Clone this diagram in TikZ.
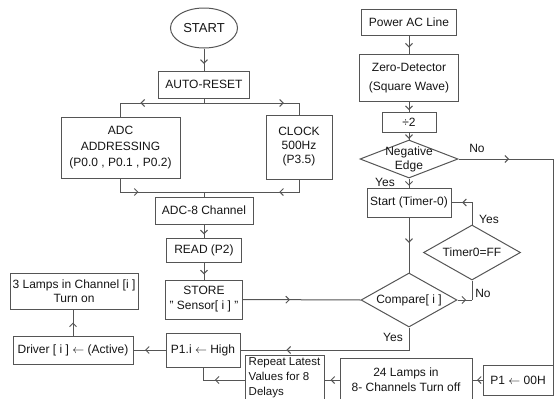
\documentclass[tikz,border=0pt]{standalone}
\usepackage{fontspec}
\setmainfont{Liberation Sans}
\usepackage{tikz}
\usetikzlibrary{arrows.meta,shapes.geometric,decorations.markings}
\definecolor{clLine}{HTML}{555555}
\definecolor{clText}{HTML}{151515}
\tikzset{
  box/.style={rectangle, draw=clLine, line width=1pt, align=center,
              inner sep=1pt, text=clText, font=\fontsize{12}{15}\selectfont},
  term/.style={ellipse, draw=clLine, line width=1pt, inner sep=0pt,
               text=clText, font=\fontsize{13}{15}\selectfont},
  decision/.style={diamond, draw=clLine, line width=1pt, inner sep=0pt,
               label={[text=clText, align=center, font=\fontsize{12}{14}\selectfont]center:{#1}}},
  flow/.style={draw=clLine, line width=1pt, postaction={decorate},
               decoration={markings, mark=at position #1 with {\arrow{Straight Barb[length=3.5pt,width=7pt,line width=1pt]}}}},
  flow/.default=0.6,
  tag/.style={text=clText, inner sep=0pt, font=\fontsize{12}{14}\selectfont},
}
\begin{document}
\begin{tikzpicture}[x=1pt, y=-1pt]
  \useasboundingbox (0,0) rectangle (555,399);

  % left column
  \node[term, minimum width=67pt, minimum height=40pt] (start) at (204,28) {START};
  \node[box, minimum width=91pt, minimum height=27pt] (auto) at (204,84.5) {AUTO-RESET};
  \node[box, minimum width=119pt, minimum height=61pt, font=\fontsize{12}{16}\selectfont] (adc) at (120.5,147.5)
    {ADC\\ADDRESSING\\(P0.0 , P0.1 , P0.2)};
  \node[box, minimum width=66pt, minimum height=64pt, font=\fontsize{12}{14}\selectfont] (clock) at (299,147)
    {CLOCK\\500Hz\\(P3.5)};
  \node[box, minimum width=98pt, minimum height=27pt] (adc8) at (204,210.5) {ADC-8 Channel};
  \node[box, minimum width=75pt, minimum height=24pt] (read) at (204,250) {READ (P2)};
  \node[box, minimum width=77pt, minimum height=39pt] (store) at (204,299.5) {STORE\\" Sensor[ i ] "};
  \node[box, minimum width=74pt, minimum height=34pt] (p1i) at (203,350) {P1.i $\leftarrow$ High};
  \node[box, minimum width=120pt, minimum height=28pt] (driver) at (73,350) {Driver [ i ] $\leftarrow$ (Active)};
  \node[box, minimum width=128pt, minimum height=36pt, font=\fontsize{12}{14}\selectfont] (lamps) at (74,291)
    {3 Lamps in Channel [i ]\\Turn on};
  \node[box, minimum width=79pt, minimum height=46pt, align=left, inner sep=0pt,
        font=\fontsize{11.5}{15}\selectfont] (repeat) at (284.5,378)
    {Repeat Latest\\Values for 8\\Delays};

  % right column
  \node[box, minimum width=95pt, minimum height=26pt] (power) at (409,22) {Power AC Line};
  \node[box, minimum width=99pt, minimum height=47pt, font=\fontsize{12}{19}\selectfont] (zero) at (409,78)
    {Zero-Detector\\(Square Wave)};
  \node[box, minimum width=54pt, minimum height=20pt] (div) at (409,122) {÷2};
  \node[decision={Negative\\Edge}, minimum width=98pt, minimum height=38pt] (neg) at (409,159) {};
  \node[box, minimum width=84pt, minimum height=29pt] (tstart) at (409,202.5) {Start (Timer-0)};
  \node[decision={Timer0=FF}, minimum width=97pt, minimum height=55pt] (timer) at (472,252.5) {};
  \node[decision={Compare[ i ]}, minimum width=96pt, minimum height=54pt] (compare) at (409,300) {};
  \node[box, minimum width=132pt, minimum height=44pt, font=\fontsize{12}{15}\selectfont] (lamps24) at (406,380)
    {24 Lamps in\\8- Channels Turn off};
  \node[box, minimum width=70pt, minimum height=30pt] (p1off) at (518,380) {P1 $\leftarrow$ 00H};

  \coordinate (split) at (204,103);
  \coordinate (merge) at (204,192);
  \coordinate (redge) at (553,159);
  \coordinate (tno) at (472,300);

  % connectors
  \draw[flow=0.7] (start) -- (auto);
  \draw[flow=0.67] (auto.south) -- (split) -| (adc.north);
  \draw[flow=0.75] (split) -| (clock.north);
  \draw[flow=0.31] (adc.south) |- (merge) -- (adc8.north);
  \draw[flow=0.3] (clock.south) |- (merge);
  \draw[flow=0.75] (adc8) -- (read);
  \draw[flow=0.7] (read) -- (store);
  \draw[flow=0.4] (store.east) -- (compare.west);
  \draw[flow=0.65] (power) -- (zero);
  \draw[flow=0.85] (zero) -- (div);
  \draw[flow=0.9] (div) -- (neg);
  \draw[flow=0.8] (neg) -- (tstart);
  \draw[flow=0.16] (neg.east) -- (redge) |- (p1off.east);
  \draw[flow=0.46] (tstart) -- (compare);
  \draw[flow=0.75] (timer.north) |- (tstart.east);
  \draw[clLine, line width=1pt] (timer.south) -- (tno);
  \draw[flow=0.6] (compare.east) -- (tno);
  \draw[flow=0.76] (compare.south) |- (p1i.east);
  \draw[flow=0.64] (p1i) -- (driver);
  \draw[flow=0.5] (driver.north) -- (driver.north |- lamps.south);
  \draw[flow=0.55] (repeat.west |- p1off) -| (p1i.south);
  \draw[flow=0.6] (lamps24) -- (lamps24 -| repeat.east);
  \draw[flow=0.55] (p1off) -- (lamps24);

  % branch labels
  \node[tag] (negno) at (477,148) {No};
  \node[tag] (negyes) at (385,182) {Yes};
  \node[tag] (timyes) at (489,219) {Yes};
  \node[tag] (timno) at (483,293) {No};
  \node[tag] (cmpyes) at (393,337) {Yes};
\end{tikzpicture}
\end{document}
